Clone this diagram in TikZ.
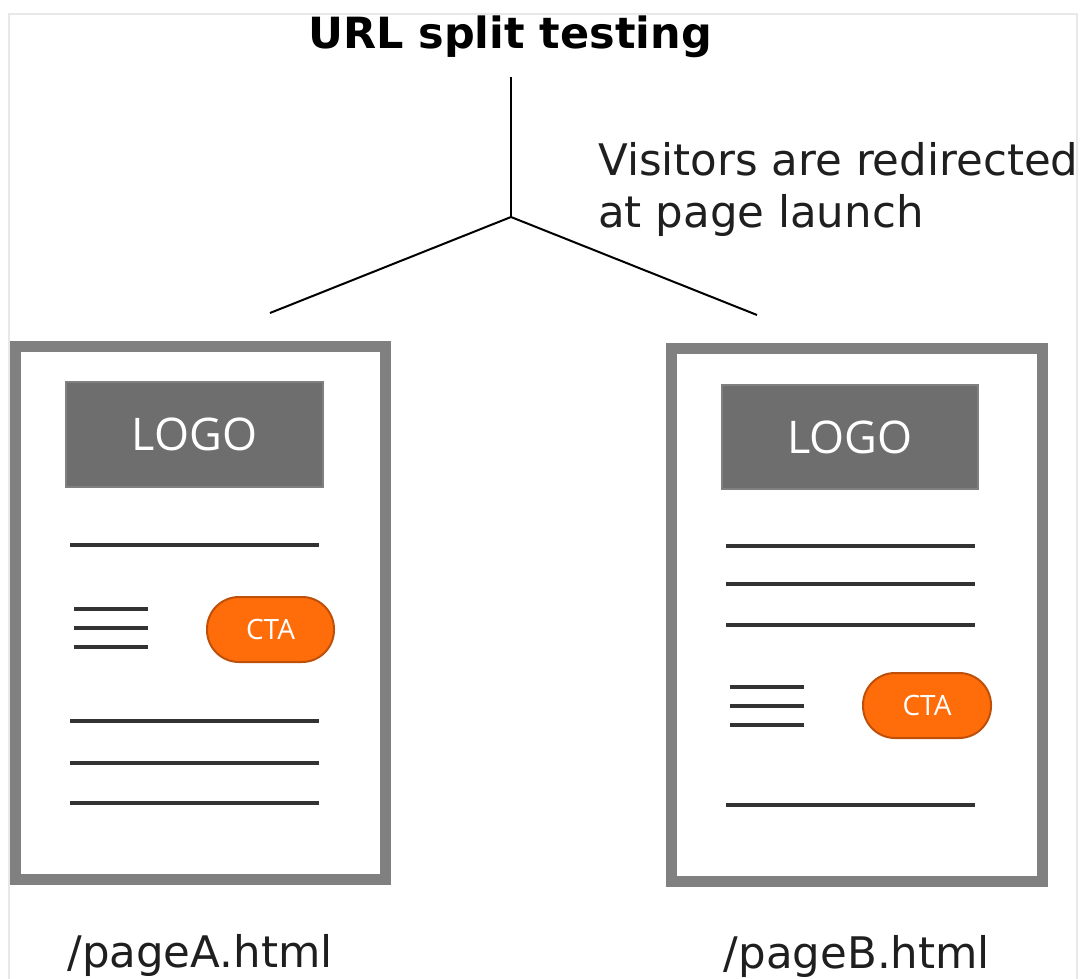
\documentclass[tikz,border=0pt]{standalone}
\usepackage{fontspec}
\setmainfont{DejaVu Sans}
\newfontfamily\logofont{Open Sans}
\usepackage{tikz}
\usetikzlibrary{positioning}

\definecolor{framegray}{RGB}{128,128,128}
\definecolor{logogray}{RGB}{110,110,110}
\definecolor{ctaorange}{RGB}{255,108,10}
\definecolor{ctaedge}{RGB}{190,80,10}

\begin{document}
\begin{tikzpicture}[x=1pt, y=-1pt,
  bigtext/.style={font=\fontsize{43.5}{52}\selectfont, inner sep=0pt, text=black!88},
  pageframe/.style={draw=framegray, line width=11pt, inner sep=0pt},
  logobox/.style={draw=framegray, fill=logogray, line width=2pt, text=white,
    font=\logofont\fontsize{45}{45}\selectfont, inner sep=0pt},
  ctabutton/.style={draw=ctaedge, fill=ctaorange, line width=2pt, text=white,
    rounded corners=32pt, font=\logofont\fontsize{28}{28}\selectfont, inner sep=0pt},
  textline/.style={draw=black!80, line width=3.8pt},
  splitline/.style={draw=black, line width=2pt}]
  \useasboundingbox (0,0) rectangle (1081,979);
  \draw[black!9, line width=2pt] (9,979) |- (1077,14) -- (1077,979);

  % Title and split
  \node[bigtext, font=\bfseries\fontsize{43}{52}\selectfont, text=black, anchor=base] (title) at (510,49) {URL split testing};
  \coordinate (top) at (511,77);
  \coordinate (split) at (511,217);
  \coordinate (endA) at (270,313);
  \coordinate (endB) at (757,315);
  \draw[splitline] (top) -- (split);
  \draw[splitline] (split) -- (endA);
  \draw[splitline] (split) -- (endB);
  \node[bigtext, align=left, anchor=base west] (redirect) at (598,227) {Visitors are redirected\\at page launch};

  % Page A
  \node[pageframe, minimum width=369.5pt, minimum height=533pt] (pageA) at (200.25,612.5) {};
  \node[logobox, minimum width=257pt, minimum height=105pt] (logoA) at (194.5,434.5) {LOGO};
  \draw[textline] (70,545) -- (319,545);
  \draw[textline] (74,609) -- (148,609);
  \draw[textline] (74,628) -- (148,628);
  \draw[textline] (74,647) -- (148,647);
  \node[ctabutton, minimum width=127pt, minimum height=65pt] (ctaA) at (270.5,629.5) {CTA};
  \draw[textline] (70,721) -- (319,721);
  \draw[textline] (70,763) -- (319,763);
  \draw[textline] (70,803) -- (319,803);
  \node[bigtext, anchor=base] (urlA) at (200,967) {/pageA.html};

  % Page B
  \node[pageframe, minimum width=371pt, minimum height=532.5pt] (pageB) at (856.5,614.75) {};
  \node[logobox, minimum width=256pt, minimum height=104pt] (logoB) at (850,437) {LOGO};
  \draw[textline] (726,546) -- (975,546);
  \draw[textline] (726,584) -- (975,584);
  \draw[textline] (726,625) -- (975,625);
  \draw[textline] (730,687) -- (804,687);
  \draw[textline] (730,706) -- (804,706);
  \draw[textline] (730,725) -- (804,725);
  \node[ctabutton, minimum width=128pt, minimum height=65pt] (ctaB) at (927,705.5) {CTA};
  \draw[textline] (726,805) -- (975,805);
  \node[bigtext, anchor=base] (urlB) at (857,968) {/pageB.html};
\end{tikzpicture}
\end{document}
